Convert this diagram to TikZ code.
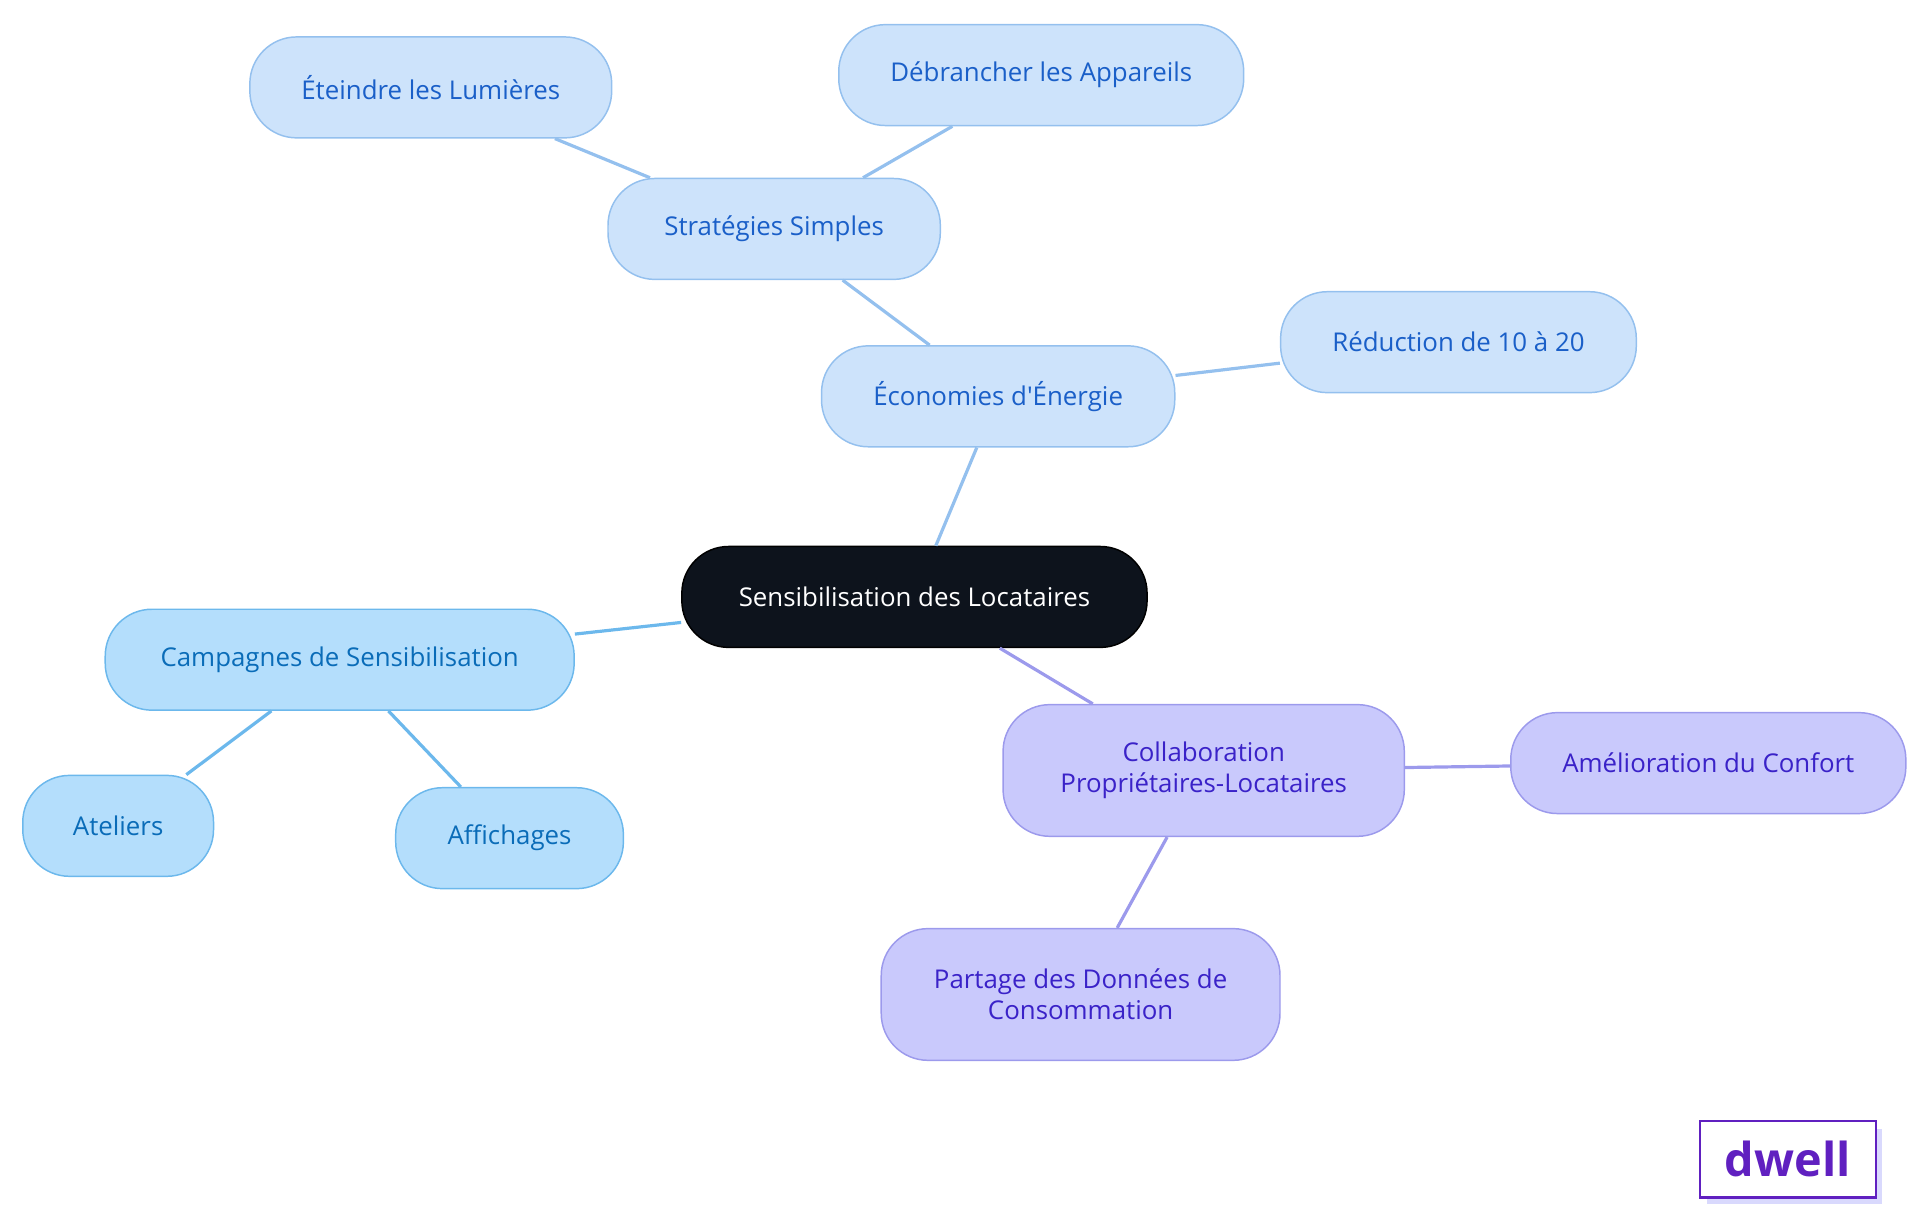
\documentclass[tikz,border=0pt]{standalone}
\usepackage{fontspec}
\setmainfont{Open Sans}
\begin{document}
\begin{tikzpicture}[x=0.5pt,y=-0.5pt,
 base/.style={rounded corners=19pt,line width=0.6pt,minimum height=41pt,align=center,font=\fontsize{10.5}{12.5}\selectfont,inner sep=0pt},
 bl/.style={base,fill=blueF,draw=blueD,text=blueT},
 cy/.style={base,fill=cyF,draw=cyD,text=cyT},
 pu/.style={base,fill=puF,draw=puD,text=puT},
 eb/.style={draw=blueD,line width=1.3pt},
 ec/.style={draw=cyD,line width=1.3pt},
 ep/.style={draw=puD,line width=1.3pt}]
\definecolor{blueF}{HTML}{CDE3FB}\definecolor{blueD}{HTML}{94C0EE}\definecolor{blueT}{HTML}{1A5FC8}
\definecolor{cyF}{HTML}{B4DEFC}\definecolor{cyD}{HTML}{6CB8EC}\definecolor{cyT}{HTML}{0A6CB8}
\definecolor{puF}{HTML}{C9C9FC}\definecolor{puD}{HTML}{9C9AEC}\definecolor{puT}{HTML}{3A22C8}
\useasboundingbox (0,0) rectangle (1560,987);
\node[base,draw=black,text=white,minimum width=189pt,fill={rgb,255:red,13;green,19;blue,28}] (root) at (743,485) {Sensibilisation des Locataires};
\node[bl,minimum width=143.5pt] (eco) at (811,322) {Économies d\textquotesingle Énergie};
\node[bl,minimum width=135pt] (strat) at (629,186) {Stratégies Simples};
\node[bl,minimum width=147pt] (et) at (350,71) {Éteindre les Lumières};
\node[bl,minimum width=164.5pt] (deb) at (846,61) {Débrancher les Appareils};
\node[bl,minimum width=144.5pt] (red) at (1185,278) {Réduction de 10 à 20};
\node[cy,minimum width=190.5pt] (camp) at (276,536) {Campagnes de Sensibilisation};
\node[cy,minimum width=77.5pt] (at) at (96,671) {Ateliers};
\node[cy,minimum width=92.5pt] (aff) at (414,681) {Affichages};
\node[pu,minimum width=163pt,minimum height=53.5pt] (col) at (978,626) {Collaboration\\Propriétaires-Locataires};
\node[pu,minimum width=160.5pt] (am) at (1388,620) {Amélioration du Confort};
\node[pu,minimum width=162pt,minimum height=53.5pt] (par) at (878,808) {Partage des Données de\\Consommation};
\draw[eb] (root) -- (eco);
\draw[eb] (eco) -- (strat);
\draw[eb] (strat) -- (et);
\draw[eb] (strat) -- (deb);
\draw[eb] (eco) -- (red);
\draw[ec] (root) -- (camp);
\draw[ec] (camp) -- (at);
\draw[ec] (camp) -- (aff);
\draw[ep] (root) -- (col);
\draw[ep] (col) -- (am);
\draw[ep] (col) -- (par);
\fill[puF!70] (1387,917) rectangle (1529,978);
\node[draw={rgb,255:red,96;green,32;blue,192},fill=white,line width=0.9pt,minimum width=71.5pt,minimum height=31pt,inner sep=0pt,text={rgb,255:red,96;green,32;blue,192},font=\fontsize{19}{20}\selectfont\bfseries] (logo) at (1452.5,942) {dwell};
\end{tikzpicture}
\end{document}
